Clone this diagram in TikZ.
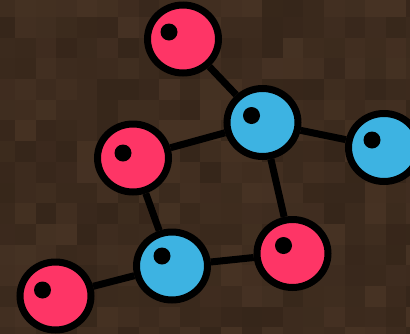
\documentclass[tikz,border=0pt]{standalone}
\usetikzlibrary{shapes.geometric}
\definecolor{oxy}{HTML}{FE3566}
\definecolor{carb}{HTML}{3DB3E2}
\tikzset{
  atom/.style={ellipse, draw=black, line width=7pt, inner sep=0pt,
    minimum width=71pt, minimum height=68pt},
  bond/.style={line width=7pt, black}
}

\begin{document}
\begin{tikzpicture}[x=1pt,y=-1pt]
    \clip (0,0) rectangle (410,333);
    \useasboundingbox (0,0) rectangle (410,333);
    % dirt tiles
    \pgfmathsetseed{31}
    \foreach \i in {0,...,20}
    \foreach \j in {0,...,16} {
        \pgfmathsetmacro\v{rnd}
        \pgfmathtruncatemacro\rr{54+17*\v}
        \pgfmathtruncatemacro\gg{38+13*\v}
        \pgfmathtruncatemacro\bb{26+10*\v}
        \definecolor{tilecol}{RGB}{\rr,\gg,\bb}
        \fill[tilecol] (-5.6+20.6*\i,-3.8+20.7*\j) rectangle ++(20.7,20.8);
    }
    \node[atom, fill=oxy]  (o1) at (183,39) {};
    \node[atom, fill=carb] (c1) at (262.5,122.5) {};
    \node[atom, fill=carb] (c2) at (384,147.5) {};
    \node[atom, fill=oxy]  (o2) at (133,158) {};
    \node[atom, fill=carb] (c3) at (172,266) {};
    \node[atom, fill=oxy]  (o3) at (292.5,253.5) {};
    \node[atom, fill=oxy]  (o4) at (55.5,296) {};
    \draw[bond] (o1) -- (c1);
    \draw[bond] (c1) -- (c2);
    \draw[bond] (c1) -- (o2);
    \draw[bond] (c1) -- (o3);
    \draw[bond] (o2) -- (c3);
    \draw[bond] (c3) -- (o3);
    \draw[bond] (c3) -- (o4);
    \foreach \n/\dx/\dy in {o1/-14/-7, c1/-11/-7, c2/-12/-7.5, o2/-10/-5,
        c3/-10/-10, o3/-9/-8, o4/-13/-6}
    \fill ([shift={(\dx,\dy)}]\n.center) circle (8.5pt);
\end{tikzpicture}
\end{document}
